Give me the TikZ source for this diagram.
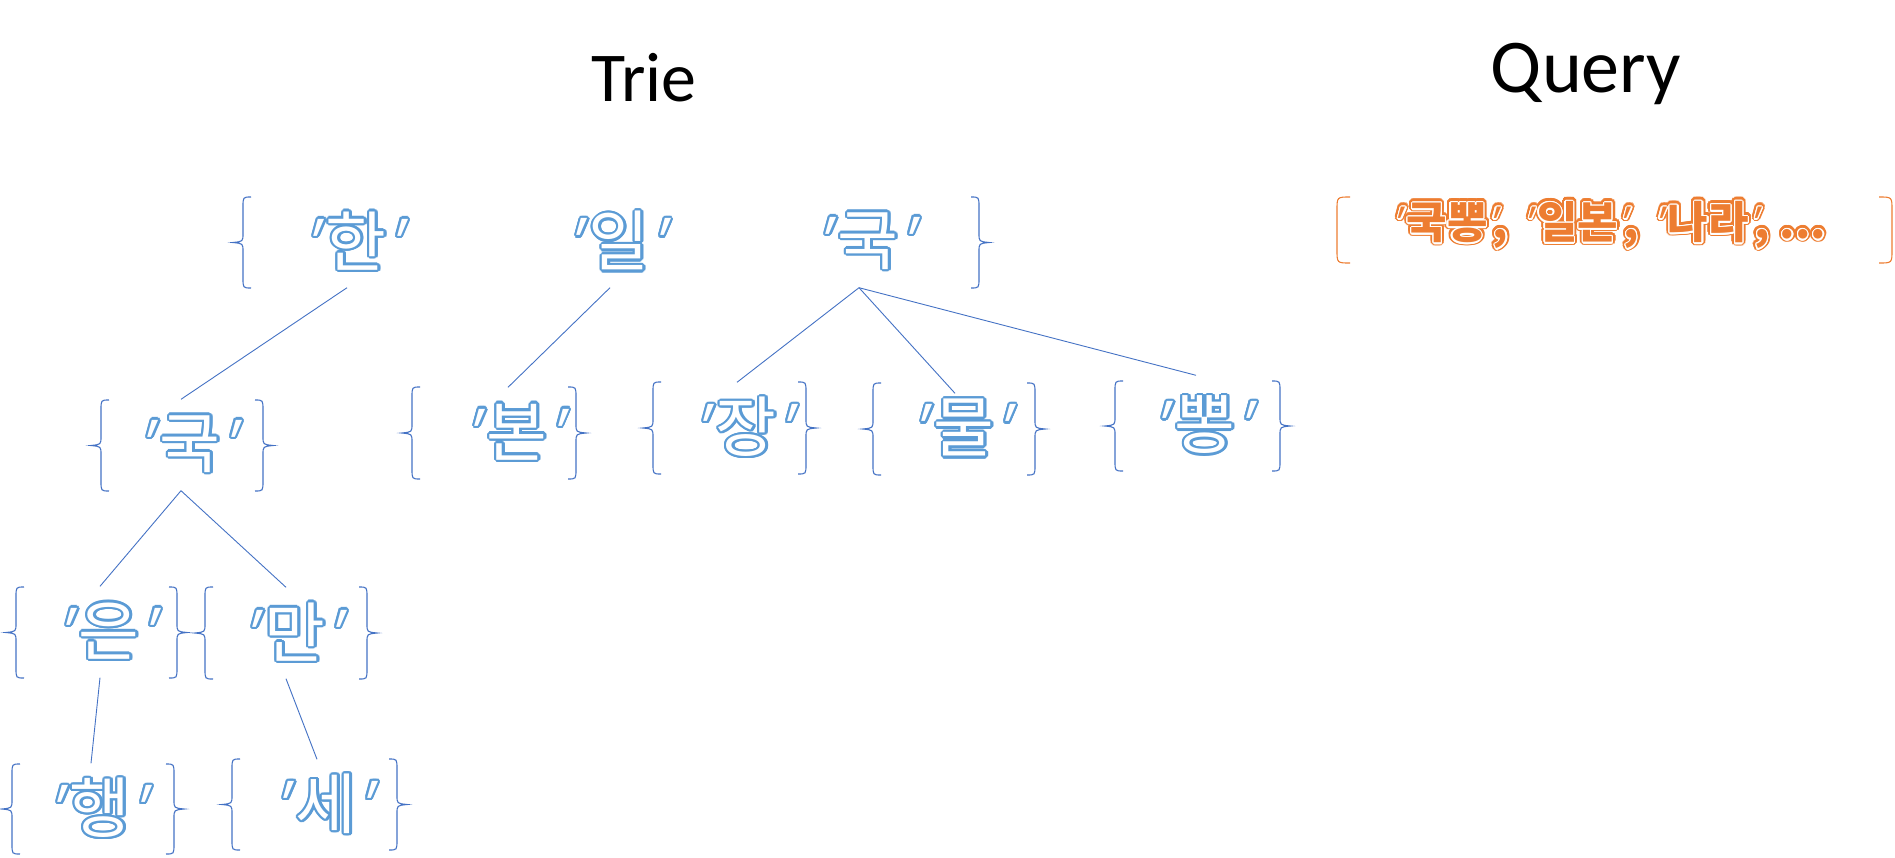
\documentclass[tikz,border=0pt]{standalone}
\usepackage{fontspec}
\setmainfont{Carlito}
\newfontfamily\kr{Noto Sans CJK KR}
\newfontfamily\qsl[FakeSlant=0.35]{Noto Sans}
\usepackage[copies]{contour}
\definecolor{lineblue}{HTML}{4472C4}
\definecolor{txtblue}{HTML}{5B9BD5}
\definecolor{qorange}{HTML}{ED7D31}
\newcommand\kql{{\qsl'}\kern0.2em}
\newcommand\kqr{\kern-0.08em{\qsl'}}
\newcommand\kword[1]{\contourlength{2.3pt}\contour{txtblue}{\kql#1\kqr}}
\newcommand\qql{{\qsl\bfseries'}\kern0.2em}
\newcommand\qqr{\kern-0.1em{\qsl\bfseries'}}
\newcommand\qline{\qql 국뽕\qqr, \qql 일본\qqr, \qql 나라\qqr, ...}
\newcommand\Lbr[3]{\draw[brc] (#1+18,#2) .. controls (#1+10,#2) .. (#1+10,#2+10) -- (#1+10,{(#2+#3)/2-9}) .. controls (#1+10,{(#2+#3)/2-1}) .. (#1,{(#2+#3)/2}) .. controls (#1+10,{(#2+#3)/2+1}) .. (#1+10,{(#2+#3)/2+9}) -- (#1+10,#3-10) .. controls (#1+10,#3) .. (#1+18,#3);}
\newcommand\Rbr[3]{\draw[brc] (#1-18,#2) .. controls (#1-10,#2) .. (#1-10,#2+10) -- (#1-10,{(#2+#3)/2-9}) .. controls (#1-10,{(#2+#3)/2-1}) .. (#1,{(#2+#3)/2}) .. controls (#1-10,{(#2+#3)/2+1}) .. (#1-10,{(#2+#3)/2+9}) -- (#1-10,#3-10) .. controls (#1-10,#3) .. (#1-18,#3);}
\tikzset{
  kn/.style={minimum height=91pt, inner sep=0pt, text=white, font=\kr\fontsize{66}{68}\selectfont},
  conn/.style={draw=lineblue, line width=0.9pt},
  brc/.style={draw=lineblue, line width=1.1pt},
  qbr/.style={draw=qorange, line width=1.1pt},
  title/.style={inner sep=0pt, text=black},
  qn/.style={inner sep=0pt, text=qorange, font=\kr\bfseries\fontsize{44}{46}\selectfont},
}
\begin{document}
\begin{tikzpicture}[x=1pt,y=-1pt]
\useasboundingbox (0,0) rectangle (1895,857);
% titles
\node[title, anchor=base, font=\fontsize{70}{72}\selectfont] (trie) at (644,101) {Trie};
\node[title, anchor=base, font=\fontsize{76}{78}\selectfont] (query) at (1586,92) {Query};
% level 1
\node[kn] (han) at (347,242) {\kword{한}};
\node[kn] (il) at (610,242) {\kword{일}};
\node[kn] (guk) at (859,242) {\kword{국}};
\Lbr{233}{197}{288}
\Rbr{989}{197}{288}
% level 2
\node[kn] (guk2) at (181,445) {\kword{국}};
\Lbr{91}{400}{491} \Rbr{273}{400}{491}
\node[kn] (bon) at (508,433) {\kword{본}};
\Lbr{402}{387}{479} \Rbr{586}{387}{479}
\node[kn] (jang) at (737,428) {\kword{장}};
\Lbr{643}{382}{474} \Rbr{816}{382}{474}
\node[kn] (mul) at (955,429) {\kword{물}};
\Lbr{863}{383}{475} \Rbr{1045}{383}{475}
\node[kn] (ppong) at (1196,426) {\kword{뽕}};
\Lbr{1105}{381}{471} \Rbr{1290}{381}{471}
% level 3
\node[kn] (eun) at (100,632) {\kword{은}};
\Lbr{6}{587}{678} \Rbr{187}{587}{678}
\node[kn] (man) at (286,633) {\kword{만}};
\Lbr{195}{587}{679} \Rbr{377}{587}{679}
% level 4
\node[kn] (haeng) at (91,809) {\kword{행}};
\Lbr{2}{764}{854} \Rbr{184}{764}{854}
\node[kn] (se) at (317,805) {\kword{세}};
\Lbr{222}{759}{850} \Rbr{407}{759}{850}
% connectors
\draw[conn] (han.south) -- (guk2.north);
\draw[conn] (il.south) -- (bon.north);
\draw[conn] (guk.south) -- (jang.north);
\draw[conn] (guk.south) -- ([yshift=-10pt]mul.north);
\draw[conn] (guk.south) -- ([yshift=5pt]ppong.north);
\draw[conn] (guk2.south) -- (eun.north);
\draw[conn] (guk2.south) -- (man.north);
\draw[conn] (eun.south) -- (haeng.north);
\draw[conn] (man.south) -- (se.north);
% query
\node[qn] (qtxt) at (1607,226) {\contourlength{3.4pt}\contour{qorange}{\qline}};
\node[qn] (qtxt2) at (qtxt.center) {\contourlength{1.3pt}\contour{white}{\qline}};
\draw[qbr] (1350,197) .. controls (1337,197) .. (1337,210) -- (1337,250) .. controls (1337,263) .. (1350,263);
\draw[qbr] (1879,197) .. controls (1892,197) .. (1892,210) -- (1892,250) .. controls (1892,263) .. (1879,263);
\end{tikzpicture}
\end{document}
